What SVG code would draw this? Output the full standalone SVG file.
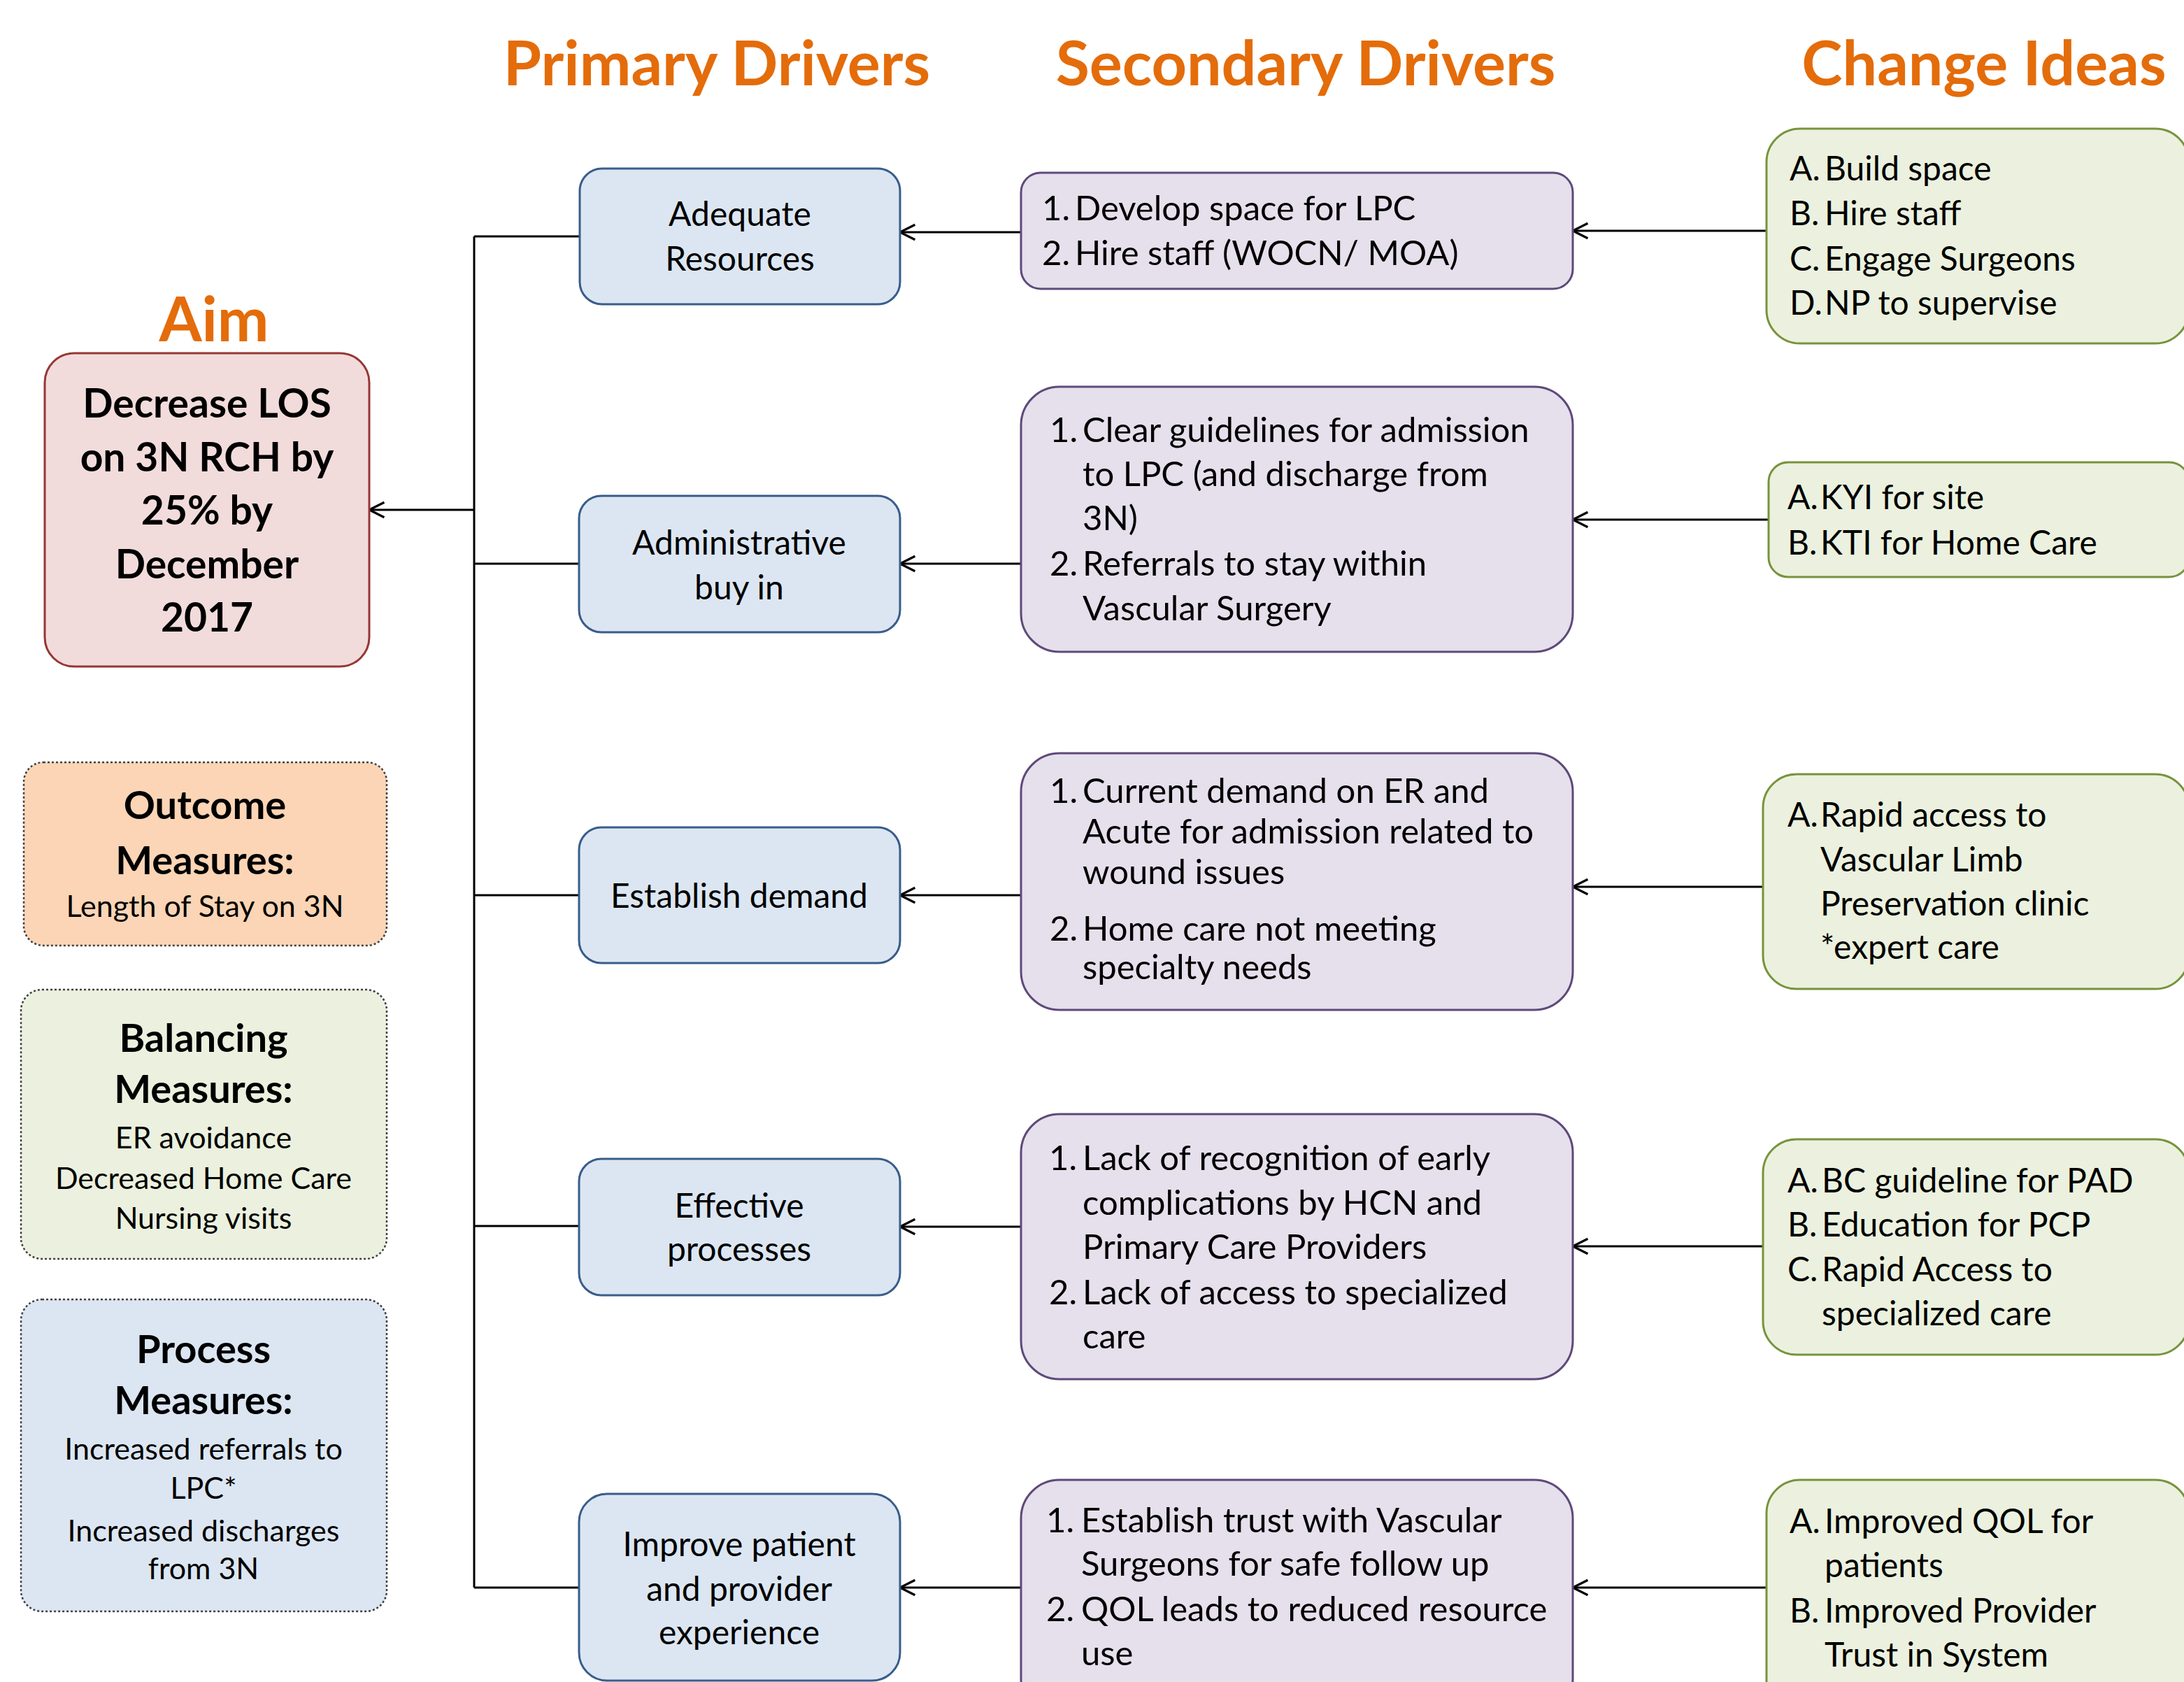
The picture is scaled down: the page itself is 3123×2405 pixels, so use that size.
<svg xmlns="http://www.w3.org/2000/svg" width="3123" height="2405" viewBox="0 0 3123 2405">
<style>
.hdr{font-family:Lato,"Open Sans",sans-serif;font-weight:bold;font-size:88px;fill:#e46c0a;text-anchor:middle}
.t{font-family:Lato,"Open Sans",sans-serif;font-size:48px;fill:#000}
.s{font-size:49px}
.c{text-anchor:middle}
.aimt{font-family:Lato,"Open Sans",sans-serif;font-weight:bold;font-size:57px;fill:#000;text-anchor:middle}
.mh{font-family:Lato,"Open Sans",sans-serif;font-weight:bold;font-size:56px;fill:#000;text-anchor:middle}
.mb{font-family:Lato,"Open Sans",sans-serif;font-size:43px;fill:#000;text-anchor:middle}
.pri{fill:#dce6f2;stroke:#385d8a;stroke-width:3}
.sec{fill:#e5e0ec;stroke:#5f497a;stroke-width:3}
.chg{fill:#ebf1de;stroke:#77933c;stroke-width:3}
.aim{fill:#f2dcdb;stroke:#953735;stroke-width:3}
.meas{stroke:#404040;stroke-width:2.5;stroke-dasharray:3 3}
.ln{stroke:#000;stroke-width:3;fill:none}
.ar{stroke:#000;stroke-width:3;fill:none;marker-end:url(#arr)}
</style>
<defs>
<marker id="arr" markerUnits="userSpaceOnUse" markerWidth="30" markerHeight="30" viewBox="-24 -14 28 28" refX="0" refY="0" orient="auto" overflow="visible">
<path d="M-20,-10 L0,0 L-20,10" fill="none" stroke="#000" stroke-width="3"/>
</marker>
</defs>
<rect width="3123" height="2405" fill="#fff"/>

<g id="headers">
<text class="hdr" x="1025" y="122">Primary Drivers</text>
<text class="hdr" x="1867" y="122">Secondary Drivers</text>
<text class="hdr" x="2837" y="122">Change Ideas</text>
<text class="hdr" x="306" y="488">Aim</text>
</g>

<g id="connectors">
<path class="ar" d="M678,729 H528"/>
<path class="ln" d="M678,338 V2270"/>
<path class="ln" d="M678,338 H829"/>
<path class="ln" d="M678,806 H827"/>
<path class="ln" d="M678,1280 H827"/>
<path class="ln" d="M678,1753 H827"/>
<path class="ln" d="M678,2270 H827"/>
<path class="ar" d="M1460,332 H1287"/>
<path class="ar" d="M1460,806 H1287"/>
<path class="ar" d="M1460,1280 H1287"/>
<path class="ar" d="M1460,1754 H1287"/>
<path class="ar" d="M1460,2270 H1287"/>
<path class="ar" d="M2526,330 H2249"/>
<path class="ar" d="M2529,743 H2249"/>
<path class="ar" d="M2521,1268 H2249"/>
<path class="ar" d="M2521,1782 H2249"/>
<path class="ar" d="M2526,2270 H2249"/>
</g>

<g id="aim">
<rect class="aim" x="64" y="505" width="464" height="448" rx="42"/>
<text class="aimt"><tspan x="296" y="597">Decrease LOS</tspan><tspan x="296" y="674">on 3N RCH by</tspan><tspan x="296" y="750">25% by</tspan><tspan x="296" y="827">December</tspan><tspan x="296" y="903">2017</tspan></text>
</g>

<g id="outcome">
<rect class="meas" fill="#fbd5b5" x="34" y="1090" width="519" height="262" rx="28"/>
<text class="mh"><tspan x="293" y="1171">Outcome</tspan><tspan x="293" y="1250">Measures:</tspan></text>
<text class="mb" x="293" y="1311">Length of Stay on 3N</text>
</g>

<g id="balancing">
<rect class="meas" fill="#ebf1de" x="30" y="1415" width="523" height="385" rx="30"/>
<text class="mh"><tspan x="291" y="1504">Balancing</tspan><tspan x="291" y="1577">Measures:</tspan></text>
<text class="mb"><tspan x="291" y="1642">ER avoidance</tspan><tspan x="291" y="1700">Decreased Home Care</tspan><tspan x="291" y="1757">Nursing visits</tspan></text>
</g>

<g id="process">
<rect class="meas" fill="#dce6f2" x="30" y="1858" width="523" height="446" rx="30"/>
<text class="mh"><tspan x="291" y="1949">Process</tspan><tspan x="291" y="2022">Measures:</tspan></text>
<text class="mb"><tspan x="291" y="2087">Increased referrals to</tspan><tspan x="291" y="2143">LPC*</tspan><tspan x="291" y="2204">Increased discharges</tspan><tspan x="291" y="2258">from 3N</tspan></text>
</g>

<g id="p1">
<rect class="pri" x="829" y="241" width="458" height="194" rx="32"/>
<text class="t c"><tspan x="1058" y="323">Adequate</tspan><tspan x="1058" y="387">Resources</tspan></text>
</g>
<g id="p2">
<rect class="pri" x="828" y="709" width="459" height="195" rx="32"/>
<text class="t c"><tspan x="1057" y="793">Administrative</tspan><tspan x="1057" y="857">buy in</tspan></text>
</g>
<g id="p3">
<rect class="pri" x="828" y="1183" width="459" height="194" rx="32"/>
<text class="t c" x="1057" y="1298">Establish demand</text>
</g>
<g id="p4">
<rect class="pri" x="828" y="1657" width="459" height="195" rx="32"/>
<text class="t c"><tspan x="1057" y="1741">Effective</tspan><tspan x="1057" y="1803">processes</tspan></text>
</g>
<g id="p5">
<rect class="pri" x="828" y="2136" width="459" height="267" rx="40"/>
<text class="t c"><tspan x="1057" y="2225">Improve patient</tspan><tspan x="1057" y="2289">and provider</tspan><tspan x="1057" y="2351">experience</tspan></text>
</g>

<g id="s1">
<rect class="sec" x="1460" y="247" width="789" height="166" rx="28"/>
<text class="t s"><tspan x="1490" y="315">1.</tspan><tspan x="1537" y="315">Develop space for LPC</tspan><tspan x="1490" y="379">2.</tspan><tspan x="1537" y="379">Hire staff (WOCN/ MOA)</tspan></text>
</g>
<g id="s2">
<rect class="sec" x="1460" y="553" width="789" height="379" rx="55"/>
<text class="t s"><tspan x="1501" y="632">1.</tspan><tspan x="1548" y="632">Clear guidelines for admission</tspan><tspan x="1548" y="695">to LPC (and discharge from</tspan><tspan x="1548" y="758">3N)</tspan><tspan x="1501" y="823">2.</tspan><tspan x="1548" y="823">Referrals to stay within</tspan><tspan x="1548" y="887">Vascular Surgery</tspan></text>
</g>
<g id="s3">
<rect class="sec" x="1460" y="1077" width="789" height="367" rx="55"/>
<text class="t s"><tspan x="1501" y="1148">1.</tspan><tspan x="1548" y="1148">Current demand on ER and</tspan><tspan x="1548" y="1206">Acute for admission related to</tspan><tspan x="1548" y="1264">wound issues</tspan><tspan x="1501" y="1345">2.</tspan><tspan x="1548" y="1345">Home care not meeting</tspan><tspan x="1548" y="1400">specialty needs</tspan></text>
</g>
<g id="s4">
<rect class="sec" x="1460" y="1593" width="789" height="379" rx="55"/>
<text class="t s"><tspan x="1500" y="1673">1.</tspan><tspan x="1548" y="1673">Lack of recognition of early</tspan><tspan x="1548" y="1737">complications by HCN and</tspan><tspan x="1548" y="1800">Primary Care Providers</tspan><tspan x="1500" y="1865">2.</tspan><tspan x="1548" y="1865">Lack of access to specialized</tspan><tspan x="1548" y="1928">care</tspan></text>
</g>
<g id="s5">
<rect class="sec" x="1460" y="2116" width="789" height="340" rx="55"/>
<text class="t s"><tspan x="1496" y="2191">1.</tspan><tspan x="1546" y="2191">Establish trust with Vascular</tspan><tspan x="1546" y="2253">Surgeons for safe follow up</tspan><tspan x="1496" y="2318">2.</tspan><tspan x="1546" y="2318">QOL leads to reduced resource</tspan><tspan x="1546" y="2381">use</tspan></text>
</g>

<g id="c1">
<rect class="chg" x="2526" y="184" width="604" height="307" rx="48"/>
<text class="t"><tspan x="2559" y="258">A.</tspan><tspan x="2609" y="258">Build space</tspan><tspan x="2559" y="322">B.</tspan><tspan x="2609" y="322">Hire staff</tspan><tspan x="2559" y="387">C.</tspan><tspan x="2609" y="387">Engage Surgeons</tspan><tspan x="2559" y="450">D.</tspan><tspan x="2609" y="450">NP to supervise</tspan></text>
</g>
<g id="c2">
<rect class="chg" x="2529" y="661" width="601" height="164" rx="28"/>
<text class="t"><tspan x="2556" y="728">A.</tspan><tspan x="2603" y="728">KYI for site</tspan><tspan x="2556" y="793">B.</tspan><tspan x="2603" y="793">KTI for Home Care</tspan></text>
</g>
<g id="c3">
<rect class="chg" x="2521" y="1107" width="609" height="307" rx="48"/>
<text class="t"><tspan x="2556" y="1182">A.</tspan><tspan x="2603" y="1182">Rapid access to</tspan><tspan x="2603" y="1246">Vascular Limb</tspan><tspan x="2603" y="1309">Preservation clinic</tspan><tspan x="2603" y="1371">*expert care</tspan></text>
</g>
<g id="c4">
<rect class="chg" x="2521" y="1629" width="609" height="308" rx="48"/>
<text class="t"><tspan x="2556" y="1705">A.</tspan><tspan x="2605" y="1705">BC guideline for PAD</tspan><tspan x="2556" y="1768">B.</tspan><tspan x="2605" y="1768">Education for PCP</tspan><tspan x="2556" y="1832">C.</tspan><tspan x="2605" y="1832">Rapid Access to</tspan><tspan x="2605" y="1895">specialized care</tspan></text>
</g>
<g id="c5">
<rect class="chg" x="2526" y="2116" width="604" height="340" rx="48"/>
<text class="t"><tspan x="2559" y="2192">A.</tspan><tspan x="2609" y="2192">Improved QOL for</tspan><tspan x="2609" y="2255">patients</tspan><tspan x="2559" y="2320">B.</tspan><tspan x="2609" y="2320">Improved Provider</tspan><tspan x="2609" y="2383">Trust in System</tspan></text>
</g>
</svg>
